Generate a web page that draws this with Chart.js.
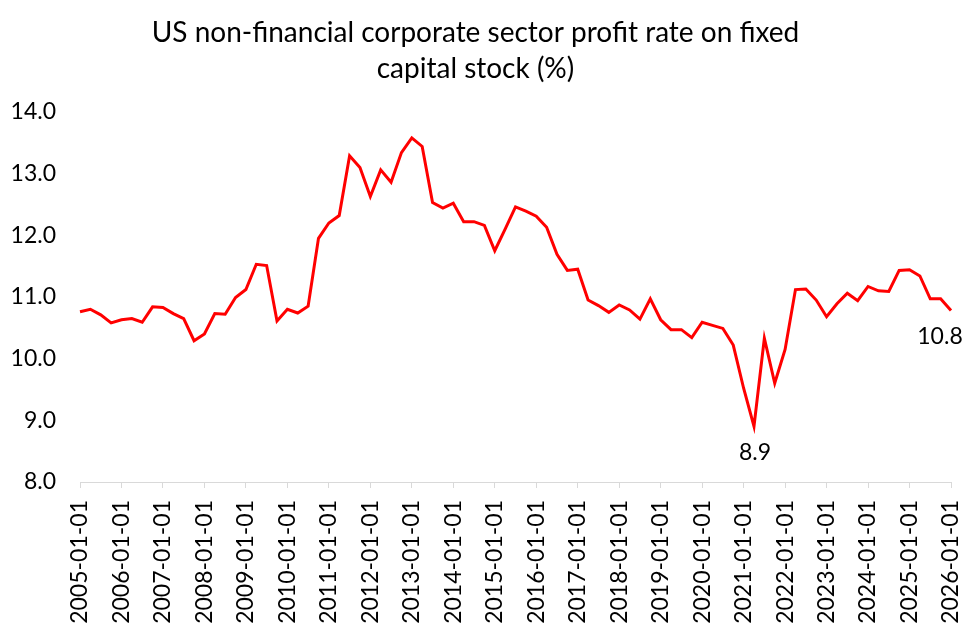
<!DOCTYPE html>
<html>
<head>
<meta charset="utf-8">
<script src="https://cdn.jsdelivr.net/npm/chart.js@4"></script>
<style>
  html, body { margin: 0; padding: 0; background: #fff; }
  #wrap { width: 970px; height: 631px; }
</style>
</head>
<body>
<div id="wrap"><canvas id="profitChart" width="970" height="631"></canvas></div>
<script>
// quarterly observations, 2005 Q1 .. 2026 Q1
const firstYear = 2005;
const lastYear = 2026;
const quarterMonths = ["01", "04", "07", "10"];

const quarters = [];
for (let y = firstYear; y <= lastYear; y++) {
  quarterMonths.forEach((m) => {
    if (y === lastYear && m !== "01") return;
    quarters.push(`${y}-${m}-01`);
  });
}

// profit rate on fixed capital stock (%)
const profitRate = [
  10.76, 10.80, 10.71, 10.58, 10.63, 10.65, 10.59, 10.84,
  10.83, 10.73, 10.65, 10.29, 10.40, 10.73, 10.72, 10.99,
  11.12, 11.53, 11.51, 10.61, 10.80, 10.74, 10.85, 11.95,
  12.20, 12.32, 13.29, 13.10, 12.63, 13.06, 12.86, 13.34,
  13.58, 13.44, 12.53, 12.44, 12.52, 12.22, 12.22, 12.16,
  11.75, 12.10, 12.46, 12.39, 12.31, 12.13, 11.69, 11.43,
  11.45, 10.95, 10.86, 10.75, 10.87, 10.79, 10.64, 10.97,
  10.63, 10.47, 10.47, 10.34, 10.59, 10.54, 10.49, 10.22,
  9.52, 8.90, 10.33, 9.60, 10.15, 11.12, 11.13, 10.95,
  10.68, 10.89, 11.06, 10.94, 11.17, 11.10, 11.09, 11.43,
  11.44, 11.34, 10.97, 10.97, 10.78
];

const yTicks = [8, 9, 10, 11, 12, 13, 14];

// points that carry a value label
const labelledPoints = [
  { index: 65, text: "8.9", dx: 1, dy: 26 },
  { index: 84, text: "10.8", dx: -11, dy: 26 },
];

const FONT = "Lato, 'Open Sans', sans-serif";

const valueLabels = {
  id: "valueLabels",
  afterDatasetsDraw(chart) {
    const meta = chart.getDatasetMeta(0);
    const ctx = chart.ctx;
    ctx.save();
    ctx.font = `23px ${FONT}`;
    ctx.fillStyle = "#000";
    ctx.textAlign = "center";
    ctx.textBaseline = "middle";
    labelledPoints.forEach((l) => {
      const pt = meta.data[l.index];
      if (!pt) return;
      ctx.fillText(l.text, pt.x + l.dx, pt.y + l.dy);
    });
    ctx.restore();
  },
};

const ctx = document.getElementById("profitChart").getContext("2d");
const profitChart = new Chart(ctx, {
  type: "line",
  data: {
    labels: quarters,
    datasets: [
      {
        label: "Profit rate",
        data: profitRate,
        borderColor: "#ff0000",
        borderWidth: 3,
        pointRadius: 0,
        tension: 0,
        fill: false,
      },
    ],
  },
  options: {
    responsive: false,
    animation: false,
    devicePixelRatio: 1,
    layout: { padding: { left: 0, right: 19, top: 0, bottom: 0 } },
    plugins: {
      legend: { display: false },
      tooltip: { enabled: false },
      title: {
        display: true,
        text: ["US non-financial corporate sector profit rate on fixed", "capital stock (%)"],
        color: "#000",
        font: { family: FONT, size: 28, weight: "normal", lineHeight: 1.32 },
        padding: { top: 14, bottom: 24 },
      },
    },
    scales: {
      x: {
        type: "category",
        offset: false,
        border: { display: true, color: "#d9d9d9", width: 1 },
        grid: {
          display: true,
          drawOnChartArea: false,
          drawTicks: true,
          tickLength: 6,
          color: (c) => (c.index % 4 === 0 ? "#d9d9d9" : "rgba(0,0,0,0)"),
        },
        ticks: {
          autoSkip: false,
          maxRotation: 90,
          minRotation: 90,
          padding: 12,
          color: "#000",
          font: { family: FONT, size: 23 },
          callback: function (val, i) {
            return i % 4 === 0 ? this.getLabelForValue(val) : "";
          },
        },
        afterFit: (scale) => {
          scale.height = 149;
          scale.paddingLeft = 0;
          scale.paddingRight = 12;
        },
      },
      y: {
        min: yTicks[0],
        max: yTicks[yTicks.length - 1],
        border: { display: false },
        grid: { display: false, drawTicks: false },
        afterBuildTicks: (scale) => {
          scale.ticks = yTicks.map((v) => ({ value: v }));
        },
        ticks: {
          padding: 24,
          color: "#000",
          font: { family: FONT, size: 23 },
          callback: (v) => Number(v).toFixed(1),
        },
        afterFit: (scale) => { scale.width = 80; },
      },
    },
  },
  plugins: [valueLabels],
});
</script>
</body>
</html>
